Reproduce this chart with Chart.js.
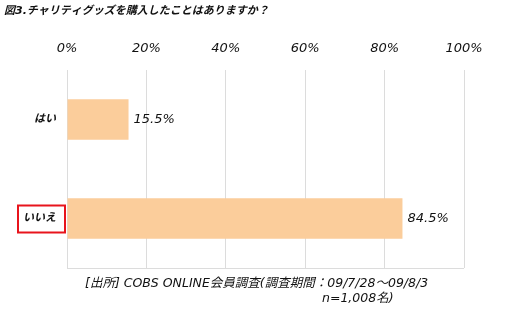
<!DOCTYPE html>
<html>
<head>
<meta charset="utf-8">
<script src="https://cdn.jsdelivr.net/npm/chart.js@4"></script>
<style>
  html, body { margin: 0; padding: 0; background: #fff; }
  #wrap { width: 505px; height: 314px; position: relative; }
</style>
</head>
<body>
<div id="wrap"><canvas id="chart"></canvas></div>
<script>
// ==================== DATA ====================
const titleText = '図3.チャリティグッズを購入したことはありますか？';
const categories = ['はい', 'いいえ'];
const percentValues = [15.5, 84.5];
const valueLabels = ['15.5%', '84.5%'];
const highlightCategory = 'いいえ';
const sourceLines = ['[出所] COBS ONLINE会員調査(調査期間：09/7/28～09/8/3', 'n=1,008名)'];

const FONT = '"DejaVu Sans", "Noto Sans CJK JP", sans-serif';

// ==================== PLUGINS ====================
// title, footnote, value labels, red box, bottom line
const extrasPlugin = {
    id: 'extras',
    afterDraw(chart) {
        const ctx = chart.ctx;
        const area = chart.chartArea;
        ctx.save();

        // bottom border line
        ctx.strokeStyle = '#dcdcdc';
        ctx.lineWidth = 1;
        ctx.beginPath();
        ctx.moveTo(area.left, Math.round(area.bottom) + 0.5);
        ctx.lineTo(area.right, Math.round(area.bottom) + 0.5);
        ctx.stroke();

        // title
        ctx.fillStyle = '#111';
        ctx.font = 'italic bold 11px ' + FONT;
        ctx.textBaseline = 'middle';
        ctx.textAlign = 'left';
        ctx.fillText(titleText, 4, 11);

        // value labels right of the bars
        const meta = chart.getDatasetMeta(0);
        ctx.font = 'italic 13px ' + FONT;
        meta.data.forEach((bar, i) => {
            ctx.fillText(valueLabels[i], bar.x + 5, bar.y);
        });

        // red box around highlighted category
        const yScale = chart.scales.y;
        const idx = categories.indexOf(highlightCategory);
        if (idx >= 0) {
            const cy = yScale.getPixelForValue(idx);
            ctx.strokeStyle = '#e8141c';
            ctx.lineWidth = 2;
            ctx.strokeRect(18, cy - 13, 47, 27);
        }

        // source footnote
        ctx.fillStyle = '#111';
        ctx.font = 'italic 12.5px ' + FONT;
        ctx.fillText(sourceLines[0], 85, 284);
        ctx.fillText(sourceLines[1], 322, 299);
        ctx.restore();
    }
};

// ==================== CHART ====================
const ctx = document.getElementById('chart').getContext('2d');
new Chart(ctx, {
    type: 'bar',
    data: {
        labels: categories,
        datasets: [{
            data: percentValues,
            backgroundColor: '#fbcd9b',
            borderWidth: 0,
            categoryPercentage: 1,
            barPercentage: 0.41
        }]
    },
    options: {
        indexAxis: 'y',
        responsive: true,
        maintainAspectRatio: false,
        animation: false,
        layout: { padding: { top: 0, left: 0, right: 41, bottom: 46 } },
        plugins: {
            legend: { display: false },
            tooltip: { enabled: false }
        },
        scales: {
            x: {
                position: 'top',
                min: 0,
                max: 100,
                afterFit: scale => { scale.height = 70; },
                ticks: {
                    stepSize: 20,
                    padding: 14,
                    color: '#111',
                    font: { family: FONT, size: 13, style: 'italic' },
                    callback: v => v + '%'
                },
                grid: { color: '#dcdcdc', drawTicks: false },
                border: { display: false }
            },
            y: {
                afterFit: scale => { scale.width = 67; },
                ticks: {
                    padding: 11,
                    color: '#111',
                    font: { family: FONT, size: 11, style: 'italic', weight: 'bold' }
                },
                grid: { display: false, drawTicks: false },
                border: { display: false }
            }
        }
    },
    plugins: [extrasPlugin]
});
</script>
</body>
</html>
